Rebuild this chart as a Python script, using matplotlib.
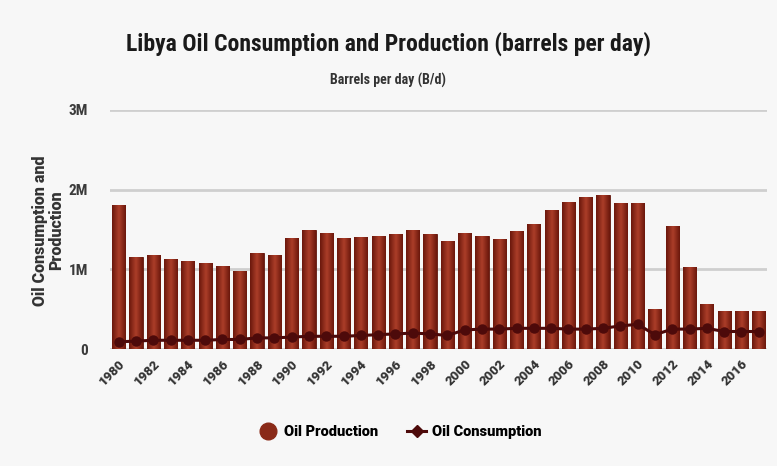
import matplotlib
matplotlib.use("Agg")
import matplotlib.pyplot as plt
from matplotlib.lines import Line2D
from matplotlib import font_manager
import numpy as np

years = list(range(1980, 2018))
production = [1.81, 1.16, 1.18, 1.13, 1.11, 1.08, 1.04, 0.98, 1.20, 1.18,
              1.39, 1.50, 1.46, 1.39, 1.40, 1.42, 1.44, 1.49, 1.44, 1.35,
              1.46, 1.42, 1.38, 1.48, 1.57, 1.74, 1.85, 1.91, 1.93, 1.83,
              1.83, 0.50, 1.54, 1.03, 0.56, 0.48, 0.48, 0.48]
consumption = [0.09, 0.10, 0.11, 0.11, 0.11, 0.11, 0.12, 0.12, 0.14, 0.14,
               0.15, 0.16, 0.16, 0.16, 0.17, 0.18, 0.19, 0.20, 0.19, 0.17,
               0.24, 0.25, 0.25, 0.26, 0.26, 0.26, 0.25, 0.25, 0.26, 0.29,
               0.31, 0.18, 0.25, 0.25, 0.26, 0.22, 0.22, 0.22]
production = [v * 1e6 for v in production]
consumption = [v * 1e6 for v in consumption]
ytick_vals = [0, 1e6, 2e6, 3e6]
ytick_labels = ["0", "1M", "2M", "3M"]
xtick_years = list(range(1980, 2018, 2))

names = {f.name for f in font_manager.fontManager.ttflist}
cond = "Roboto Condensed" if "Roboto Condensed" in names else "DejaVu Sans"
reg = "Roboto" if "Roboto" in names else "DejaVu Sans"
tfont = dict(family=cond, stretch="condensed", weight="bold")
rfont = dict(family=reg, weight=900)

bg = "#f7f7f7"
fig = plt.figure(figsize=(7.77, 4.66), dpi=100, facecolor=bg)
ax = fig.add_axes([0.1416, 0.251, 0.846, 0.513], facecolor=bg)

for v in ytick_vals:
    ax.axhline(v, color="#cfcfcf", lw=2.0, zorder=0)

bars = ax.bar(years, production, width=0.76, color="#9a3220",
              edgecolor="#5e160c", linewidth=0.6, zorder=2)
grad = np.linspace(0, 1, 64)
grad = 1 - np.abs(grad - 0.5) * 2
grad = grad[np.newaxis, :]
cmap = matplotlib.colors.LinearSegmentedColormap.from_list("g", ["#6a170b", "#ab3d29"])
for b in bars:
    x0, w, h = b.get_x(), b.get_width(), b.get_height()
    im = ax.imshow(grad, cmap=cmap, aspect="auto", extent=[x0, x0 + w, 0, h],
                   zorder=2.5, interpolation="bicubic")
    im.set_clip_path(b)
ax.set_xlim(1979.5, 2017.5)
ax.set_ylim(0, 3e6)

ax.plot(years, consumption, color="#4d0a0a", lw=2.2, marker="o", ms=6.5,
        markerfacecolor="#4d0a0a", markeredgecolor="#4d0a0a", zorder=4)

for s in ax.spines.values():
    s.set_visible(False)

ax.set_yticks(ytick_vals)
ax.set_yticklabels(ytick_labels, fontsize=11, color="#3a3a3a", **tfont)
ax.set_xticks(xtick_years)
ax.set_xticklabels([str(y) for y in xtick_years], rotation=45, ha="right",
                   rotation_mode="anchor", fontsize=9.5, color="#333333", **rfont)
ax.tick_params(axis="both", length=0, pad=6)
ax.tick_params(axis="y", pad=16)

fig.text(0.062, 0.505, "Oil Consumption and\nProduction", rotation=90, ha="center",
         va="center", fontsize=11.5, color="#333333", linespacing=1.0, **rfont)

fig.text(0.5, 0.905, "Libya Oil Consumption and Production (barrels per day)",
         ha="center", va="center", fontsize=17, color="#1a1a1a", **tfont)
fig.text(0.5, 0.828, "Barrels per day (B/d)", ha="center", va="center",
         fontsize=10, color="#333333", **tfont)

handles = [Line2D([], [], ls="none", marker="o", ms=12, color="#8a2a18"),
           Line2D([], [], color="#4d0a0a", lw=2.2, marker="D", ms=6)]
fig.legend(handles, ["Oil Production", "Oil Consumption"], loc="center",
           bbox_to_anchor=(0.515, 0.073), ncol=2, frameon=False,
           prop=dict(size=10.5, **rfont), handlelength=1.3, columnspacing=2.0,
           handletextpad=0.4)

fig.savefig("out.png", dpi=100, facecolor=bg)
